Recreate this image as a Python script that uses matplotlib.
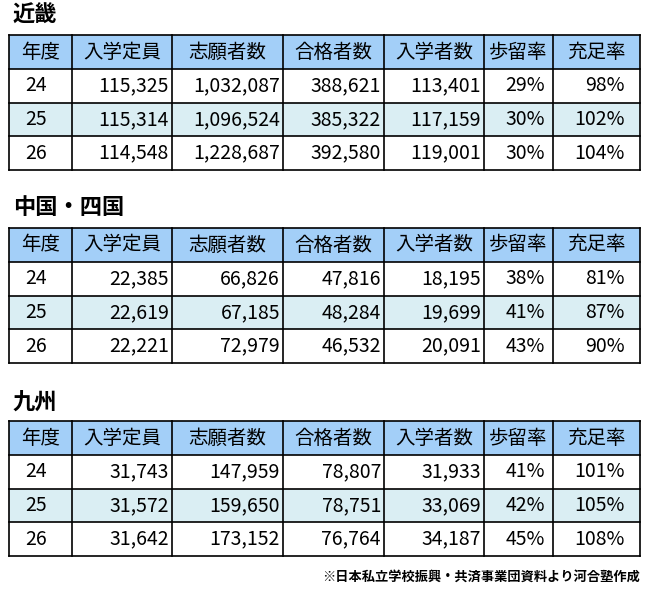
import matplotlib
matplotlib.use("Agg")
import matplotlib.pyplot as plt
from matplotlib.patches import Rectangle

plt.rcParams['font.family'] = ['Noto Sans CJK JP', 'DejaVu Sans']

headers = ["年度", "入学定員", "志願者数", "合格者数", "入学者数", "歩留率", "充足率"]
regions = ["近畿", "中国・四国", "九州"]
years = ["24", "25", "26"]
kinki = [["115,325", "1,032,087", "388,621", "113,401", "29%", "98%"],
         ["115,314", "1,096,524", "385,322", "117,159", "30%", "102%"],
         ["114,548", "1,228,687", "392,580", "119,001", "30%", "104%"]]
chugoku = [["22,385", "66,826", "47,816", "18,195", "38%", "81%"],
           ["22,619", "67,185", "48,284", "19,699", "41%", "87%"],
           ["22,221", "72,979", "46,532", "20,091", "43%", "90%"]]
kyushu = [["31,743", "147,959", "78,807", "31,933", "41%", "101%"],
          ["31,572", "159,650", "78,751", "33,069", "42%", "105%"],
          ["31,642", "173,152", "76,764", "34,187", "45%", "108%"]]
tables = [kinki, chugoku, kyushu]
footnote = "※日本私立学校振興・共済事業団資料より河合塾作成"

W, H = 649, 591
fig = plt.figure(figsize=(W/100, H/100), dpi=100)
ax = fig.add_axes([0, 0, 1, 1])
ax.set_xlim(0, W); ax.set_ylim(H, 0); ax.axis('off')

cols = [9, 72, 172, 283, 384, 484, 553, 640]
title_y = [15, 208, 402]
top_y = [35, 228, 421]
hh, rh = 34, 33.7
fs = 14

for t in range(3):
    ax.text(13, title_y[t], regions[t], fontsize=16, fontweight='bold', va='center', ha='left')
    y0 = top_y[t]
    ax.add_patch(Rectangle((cols[0], y0), cols[-1]-cols[0], hh, fc='#a3cff8', ec='none'))
    ax.add_patch(Rectangle((cols[0], y0+hh+rh), cols[-1]-cols[0], rh, fc='#daeef3', ec='none'))
    for c, h in enumerate(headers):
        ax.text((cols[c]+cols[c+1])/2, y0+hh/2, h, fontsize=fs, ha='center', va='center')
    for r in range(3):
        yc = y0 + hh + rh*r + rh/2
        ax.text(36, yc, years[r], fontsize=fs, ha='center', va='center')
        for c, v in enumerate(tables[t][r]):
            if c == 4:
                ax.text(545, yc, v, fontsize=fs, ha='right', va='center')
            elif c == 5:
                ax.text(625, yc, v, fontsize=fs, ha='right', va='center')
            else:
                ax.text(cols[c+2]-3, yc, v, fontsize=fs, ha='right', va='center')
    bottom = y0 + hh + 3*rh
    for x in cols:
        ax.plot([x, x], [y0, bottom], color='black', lw=1.2)
    for y in [y0, y0+hh, y0+hh+rh, y0+hh+2*rh, bottom]:
        ax.plot([cols[0], cols[-1]], [y, y], color='black', lw=1.2)

ax.text(640, 577, footnote, fontsize=9.5, fontweight='bold', ha='right', va='center')
fig.savefig("out.png", dpi=100)
